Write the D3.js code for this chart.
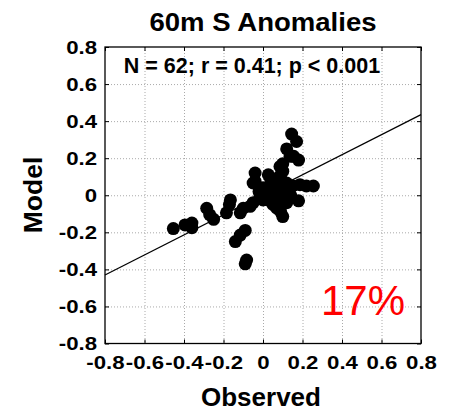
<!DOCTYPE html>
<html>
<head>
<meta charset="utf-8">
<script src="https://cdn.jsdelivr.net/npm/d3@7"></script>
<style>
  body { margin: 0; background: #fff; }
  text { font-family: "Liberation Sans", Arial, Helvetica, sans-serif; }
</style>
</head>
<body>
<script>
const W = 452, H = 412;

// observed / model anomalies
const obs = [0.145, 0.17, 0.12, 0.155, 0.18, -0.04, -0.04, 0.027, 0.086, 0.09,
  0.255, 0.22, 0.18, 0.10, 0.07, 0.0, -0.065, -0.1, -0.115, -0.165,
  -0.17, -0.185, -0.285, -0.27, -0.25, -0.36, -0.395, -0.36, -0.454, -0.09,
  -0.115, -0.14, -0.083, -0.09, -0.05, 0.05, 0.12, 0.187, 0.086, 0.02,
  -0.015, -0.05, 0.137, 0.10, 0.08, 0.06, 0.11, 0.13, 0.04, 0.07,
  0.1, 0.15, 0.06, 0.09, 0.12, 0.03, 0.0, 0.05, -0.02, 0.14, 0.09, 0.1];
const mod = [0.33, 0.29, 0.25, 0.21, 0.19, 0.12, 0.075, 0.11, 0.155, 0.11,
  0.05, 0.05, -0.03, -0.115, -0.07, -0.025, -0.06, -0.07, -0.095, -0.025,
  -0.05, -0.095, -0.07, -0.105, -0.13, -0.15, -0.16, -0.175, -0.18, -0.19,
  -0.215, -0.25, -0.35, -0.37, 0.066, 0.048, 0.066, 0.057, -0.06, -0.024,
  -0.006, -0.04, 0.21, 0.05, 0.02, 0.0, 0.0, 0.03, 0.08, 0.09,
  0.13, 0.05, -0.03, -0.09, -0.04, 0.03, 0.04, -0.05, 0.02, 0.0, 0.04, 0.17];

// regression line endpoints
const fitX = [-0.8, 0.8];
const fitY = [-0.43, 0.435];

const ticks = [-0.8, -0.6, -0.4, -0.2, 0, 0.2, 0.4, 0.6, 0.8];
const tickFmt = d => d === 0 ? "0" : d3.format(".1f")(d).replace("\u2212", "-");

const x = d3.scaleLinear().domain([-0.8, 0.8]).range([105, 421]);
const y = d3.scaleLinear().domain([-0.8, 0.8]).range([343.5, 47]);

const svg = d3.select("body").append("svg")
    .attr("width", W).attr("height", H);

// grid
const grid = svg.append("g")
    .attr("stroke", "#aaa").attr("stroke-width", 1)
    .attr("stroke-dasharray", "1,2");
grid.selectAll(".gx").data(ticks.slice(1, -1)).join("line")
    .attr("x1", d => x(d) + 0.5).attr("x2", d => x(d) + 0.5)
    .attr("y1", y(0.8)).attr("y2", y(-0.8));
grid.selectAll(".gy").data(ticks.slice(1, -1)).join("line")
    .attr("y1", d => y(d) + 0.5).attr("y2", d => y(d) + 0.5)
    .attr("x1", x(-0.8)).attr("x2", x(0.8));

// fit line
svg.append("line")
    .attr("x1", x(fitX[0])).attr("y1", y(fitY[0]))
    .attr("x2", x(fitX[1])).attr("y2", y(fitY[1]))
    .attr("stroke", "#000").attr("stroke-width", 1.2);

// points
svg.append("g").selectAll("circle").data(obs).join("circle")
    .attr("cx", d => x(d))
    .attr("cy", (d, i) => y(mod[i]))
    .attr("r", 6.5)
    .attr("fill", "#000");

// axes
function styleAxis(g) {
  g.select(".domain").remove();
  g.selectAll("line").attr("stroke", "#000");
  g.selectAll("text")
      .attr("font-size", 19).attr("font-weight", "bold").attr("fill", "#000");
}
const xAx = svg.append("g").attr("transform", `translate(0,${y(-0.8)})`)
    .call(d3.axisBottom(x).tickValues(ticks).tickFormat(tickFmt)
      .tickSizeInner(-4).tickSizeOuter(0).tickPadding(12))
    .call(styleAxis);
xAx.selectAll("text").attr("transform", "scale(1.17,1)");
const yAx = svg.append("g").attr("transform", `translate(${x(-0.8)},0)`)
    .call(d3.axisLeft(y).tickValues(ticks).tickFormat(tickFmt)
      .tickSizeInner(-4).tickSizeOuter(0).tickPadding(0))
    .call(styleAxis);
yAx.selectAll("text").attr("x", 0).attr("transform", "translate(-8,0) scale(1.17,1)");
svg.append("g").attr("transform", `translate(0,${y(0.8)})`)
    .call(d3.axisTop(x).tickValues(ticks).tickFormat("")
      .tickSizeInner(-4).tickSizeOuter(0))
    .call(styleAxis);
svg.append("g").attr("transform", `translate(${x(0.8)},0)`)
    .call(d3.axisRight(y).tickValues(ticks).tickFormat("")
      .tickSizeInner(-4).tickSizeOuter(0))
    .call(styleAxis);

// frame
svg.append("rect")
    .attr("x", x(-0.8)).attr("y", y(0.8))
    .attr("width", x(0.8) - x(-0.8)).attr("height", y(-0.8) - y(0.8))
    .attr("fill", "none").attr("stroke", "#000").attr("stroke-width", 1.3);

// texts
svg.append("text")
    .attr("transform", "translate(263,31) scale(1.06,1)")
    .attr("text-anchor", "middle")
    .attr("font-size", 26).attr("font-weight", "bold")
    .text("60m S Anomalies");

svg.append("text")
    .attr("x", 252).attr("y", 73)
    .attr("text-anchor", "middle")
    .attr("font-size", 21.5).attr("font-weight", "bold")
    .text("N = 62; r = 0.41; p < 0.001");

svg.append("text")
    .attr("x", 261).attr("y", 406)
    .attr("text-anchor", "middle")
    .attr("font-size", 26).attr("font-weight", "bold")
    .text("Observed");

svg.append("text")
    .attr("transform", "translate(42,195) rotate(-90)")
    .attr("text-anchor", "middle")
    .attr("font-size", 26.5).attr("font-weight", "bold")
    .text("Model");

svg.append("text")
    .attr("x", 321).attr("y", 315)
    .attr("font-size", 42).attr("fill", "#ff0000")
    .text("17%");
</script>
</body>
</html>
